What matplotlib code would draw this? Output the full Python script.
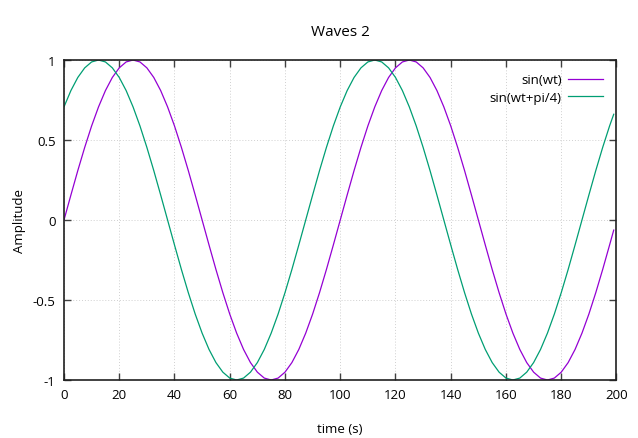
import numpy as np
import matplotlib.pyplot as plt

# sample times (s) and the two curves
time = np.append(np.arange(0, 200, 2.5), 199)

sin_wt = [0.0, 0.156, 0.309, 0.454, 0.588, 0.707, 0.809, 0.891, 0.951, 0.988,
          1.0, 0.988, 0.951, 0.891, 0.809, 0.707, 0.588, 0.454, 0.309, 0.156,
          0.0, -0.156, -0.309, -0.454, -0.588, -0.707, -0.809, -0.891, -0.951, -0.988,
          -1.0, -0.988, -0.951, -0.891, -0.809, -0.707, -0.588, -0.454, -0.309, -0.156,
          0.0, 0.156, 0.309, 0.454, 0.588, 0.707, 0.809, 0.891, 0.951, 0.988,
          1.0, 0.988, 0.951, 0.891, 0.809, 0.707, 0.588, 0.454, 0.309, 0.156,
          0.0, -0.156, -0.309, -0.454, -0.588, -0.707, -0.809, -0.891, -0.951, -0.988,
          -1.0, -0.988, -0.951, -0.891, -0.809, -0.707, -0.588, -0.454, -0.309, -0.156,
          -0.063]

sin_wt_pi4 = [0.707, 0.809, 0.891, 0.951, 0.988, 1.0, 0.988, 0.951, 0.891, 0.809,
              0.707, 0.588, 0.454, 0.309, 0.156, 0.0, -0.156, -0.309, -0.454, -0.588,
              -0.707, -0.809, -0.891, -0.951, -0.988, -1.0, -0.988, -0.951, -0.891, -0.809,
              -0.707, -0.588, -0.454, -0.309, -0.156, 0.0, 0.156, 0.309, 0.454, 0.588,
              0.707, 0.809, 0.891, 0.951, 0.988, 1.0, 0.988, 0.951, 0.891, 0.809,
              0.707, 0.588, 0.454, 0.309, 0.156, 0.0, -0.156, -0.309, -0.454, -0.588,
              -0.707, -0.809, -0.891, -0.951, -0.988, -1.0, -0.988, -0.951, -0.891, -0.809,
              -0.707, -0.588, -0.454, -0.309, -0.156, 0.0, 0.156, 0.309, 0.454, 0.588,
              0.661]

labels = ["sin(wt)", "sin(wt+pi/4)"]
colors = ["#9400d3", "#009e73"]

x_ticks = [0, 20, 40, 60, 80, 100, 120, 140, 160, 180, 200]
y_ticks = [-1, -0.5, 0, 0.5, 1]
y_ticklabels = ["-1", "-0.5", "0", "0.5", "1"]

plt.rcParams['font.family'] = ['Open Sans', 'DejaVu Sans']
plt.rcParams['font.size'] = 9.5

fig = plt.figure(figsize=(6.38, 4.39), dpi=100)
ax = fig.add_axes([0.1003, 0.1321, 0.866, 0.7289])

ax.plot(time, sin_wt, color=colors[0], lw=0.9, label=labels[0])
ax.plot(time, sin_wt_pi4, color=colors[1], lw=0.9, label=labels[1])

ax.set_xlim(0, 200)
ax.set_ylim(-1, 1)
ax.set_xticks(x_ticks)
ax.set_yticks(y_ticks)
ax.set_yticklabels(y_ticklabels)
ax.tick_params(direction='in', top=True, right=True, length=5, width=1,
               color='#404040', labelcolor='black', pad=6)
ax.grid(True, linestyle=(0, (1, 2)), color='#d0d0d0', linewidth=0.7)
for s in ax.spines.values():
    s.set_linewidth(1.2)
    s.set_color('#202020')

ax.set_title("Waves 2", fontsize=11, pad=18)
ax.set_xlabel("time (s)", labelpad=15)
ax.set_ylabel("Amplitude", labelpad=5)

ax.legend(loc='upper right', frameon=False, markerfirst=False,
          handlelength=2.7, handletextpad=0.45, labelspacing=0.35,
          borderaxespad=0.6)

fig.savefig("out.png", dpi=100)
